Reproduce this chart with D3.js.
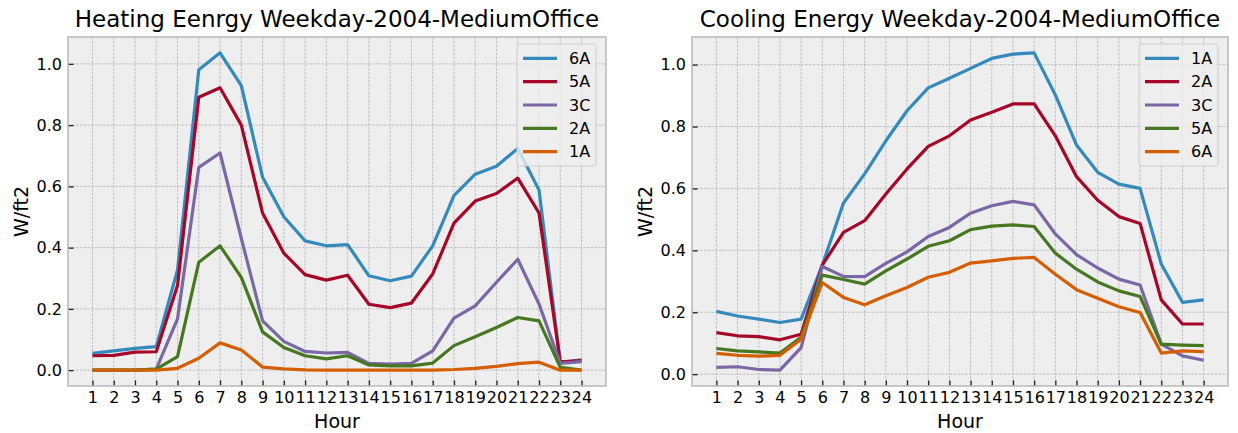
<!DOCTYPE html>
<html>
<head>
<meta charset="utf-8">
<script src="https://cdn.jsdelivr.net/npm/d3@7/dist/d3.min.js"></script>
<style>
  html, body { margin: 0; padding: 0; background: #ffffff; }
  svg { display: block; font-family: "DejaVu Sans", sans-serif; }
</style>
</head>
<body>
<svg id="chart" width="1238" height="433"></svg>
<script>
// ---------------- data ----------------
const hours = d3.range(1, 25);
const hourLabels = hours.map(String);
const yTickValues = [0.0, 0.2, 0.4, 0.6, 0.8, 1.0];

const heatTitle = "Heating Eenrgy Weekday-2004-MediumOffice";
const heatZones = ["6A", "5A", "3C", "2A", "1A"];
const heat6A = [0.055, 0.063, 0.071, 0.077, 0.327, 0.981, 1.036, 0.929, 0.630, 0.501, 0.422, 0.406, 0.410, 0.308, 0.292, 0.307, 0.406, 0.570, 0.640, 0.666, 0.724, 0.588, 0.025, 0.034];
const heat5A = [0.047, 0.048, 0.059, 0.060, 0.276, 0.891, 0.922, 0.800, 0.513, 0.382, 0.312, 0.294, 0.310, 0.215, 0.204, 0.219, 0.314, 0.480, 0.552, 0.577, 0.627, 0.513, 0.027, 0.031];
const heat3C = [0.000, 0.000, 0.000, 0.003, 0.167, 0.662, 0.709, 0.430, 0.161, 0.094, 0.061, 0.056, 0.058, 0.022, 0.020, 0.022, 0.063, 0.170, 0.210, 0.287, 0.362, 0.216, 0.022, 0.028];
const heat2A = [0.000, 0.000, 0.000, 0.003, 0.044, 0.352, 0.406, 0.303, 0.125, 0.074, 0.047, 0.037, 0.047, 0.017, 0.014, 0.014, 0.023, 0.080, 0.109, 0.139, 0.172, 0.161, 0.009, 0.000];
const heat1A = [0.000, 0.000, 0.000, 0.000, 0.006, 0.039, 0.089, 0.066, 0.010, 0.004, 0.001, 0.000, 0.000, 0.000, 0.000, 0.000, 0.000, 0.002, 0.006, 0.012, 0.021, 0.026, 0.000, 0.000];

const coolTitle = "Cooling Energy Weekday-2004-MediumOffice";
const coolZones = ["1A", "2A", "3C", "5A", "6A"];
const cool1A = [0.203, 0.188, 0.178, 0.167, 0.178, 0.352, 0.553, 0.647, 0.754, 0.851, 0.925, 0.956, 0.988, 1.020, 1.034, 1.038, 0.902, 0.740, 0.652, 0.614, 0.600, 0.356, 0.232, 0.240];
const cool2A = [0.134, 0.124, 0.121, 0.111, 0.129, 0.352, 0.458, 0.496, 0.582, 0.663, 0.736, 0.770, 0.821, 0.846, 0.873, 0.873, 0.770, 0.638, 0.562, 0.509, 0.487, 0.240, 0.162, 0.162];
const cool3C = [0.022, 0.024, 0.015, 0.013, 0.086, 0.348, 0.316, 0.315, 0.358, 0.395, 0.445, 0.474, 0.520, 0.544, 0.558, 0.547, 0.453, 0.386, 0.343, 0.307, 0.288, 0.097, 0.059, 0.045];
const cool5A = [0.083, 0.075, 0.072, 0.068, 0.119, 0.320, 0.306, 0.291, 0.334, 0.372, 0.413, 0.431, 0.467, 0.478, 0.482, 0.477, 0.391, 0.339, 0.298, 0.269, 0.251, 0.097, 0.094, 0.092];
const cool6A = [0.067, 0.061, 0.058, 0.061, 0.113, 0.296, 0.248, 0.224, 0.253, 0.280, 0.313, 0.329, 0.359, 0.366, 0.374, 0.377, 0.323, 0.273, 0.245, 0.218, 0.199, 0.068, 0.075, 0.073];

const seriesColors = ["#348ABD", "#A60628", "#7A68A6", "#467821", "#D55E00"];
const xLabel = "Hour";
const yLabel = "W/ft2";

// ---------------- drawing ----------------
const svg = d3.select("#chart");

function drawPanel(opts) {
  const { left, right, top, bottom, title, zones, series } = opts;
  const g = svg.append("g");

  // domains with matplotlib-like 5% margins
  const xMin = d3.min(hours), xMax = d3.max(hours);
  const xPad = (xMax - xMin) * 0.05;
  const allVals = series.flat();
  const yMin = d3.min(allVals), yMax = d3.max(allVals);
  const yPad = (yMax - yMin) * 0.05;

  const x = d3.scaleLinear().domain([xMin - xPad, xMax + xPad]).range([left, right]);
  const y = d3.scaleLinear().domain([yMin - yPad, yMax + yPad]).range([bottom, top]);

  // background
  g.append("rect").attr("x", left).attr("y", top)
    .attr("width", right - left).attr("height", bottom - top)
    .attr("fill", "#eeeeee");

  // grid
  const grid = g.append("g").attr("stroke", "#b2b2b2").attr("stroke-width", 0.8)
    .attr("stroke-dasharray", "2.6,1.3");
  grid.selectAll("line.gx").data(hours).enter().append("line")
    .attr("x1", d => x(d)).attr("x2", d => x(d)).attr("y1", top).attr("y2", bottom);
  grid.selectAll("line.gy").data(yTickValues).enter().append("line")
    .attr("y1", d => y(d)).attr("y2", d => y(d)).attr("x1", left).attr("x2", right);

  // axes (ticks inward)
  const xAxis = d3.axisBottom(x).tickValues(hours).tickFormat((d, i) => hourLabels[i])
    .tickSizeInner(-5.6).tickSizeOuter(0).tickPadding(5.5);
  const yAxis = d3.axisLeft(y).tickValues(yTickValues).tickFormat(d3.format(".1f"))
    .tickSizeInner(-5.6).tickSizeOuter(0).tickPadding(6);

  const gx = g.append("g").attr("transform", `translate(0,${bottom})`).call(xAxis);
  const gy = g.append("g").attr("transform", `translate(${left},0)`).call(yAxis);
  [gx, gy].forEach(a => {
    a.select(".domain").remove();
    a.selectAll(".tick line").attr("stroke", "#222").attr("stroke-width", 1.3);
    a.selectAll(".tick text").attr("fill", "#000").style("font-size", "16px")
      .style("font-family", "DejaVu Sans, sans-serif");
  });

  // lines
  const line = d3.line().x((d, i) => x(hours[i])).y(d => y(d));
  series.forEach((s, i) => {
    g.append("path").datum(s).attr("d", line)
      .attr("fill", "none").attr("stroke", seriesColors[i])
      .attr("stroke-width", 3.2).attr("stroke-linejoin", "round").attr("stroke-linecap", "butt");
  });

  // frame
  g.append("rect").attr("x", left).attr("y", top)
    .attr("width", right - left).attr("height", bottom - top)
    .attr("fill", "none").attr("stroke", "#bcbcbc").attr("stroke-width", 1.6);

  // title
  g.append("text").attr("x", (left + right) / 2).attr("y", top - 10)
    .attr("text-anchor", "middle").style("font-size", "23px").attr("fill", "#000")
    .text(title);

  // axis labels
  g.append("text").attr("x", (left + right) / 2).attr("y", 428)
    .attr("text-anchor", "middle").style("font-size", "19px").attr("fill", "#000")
    .text(xLabel);
  g.append("text")
    .attr("transform", `translate(${left - 40},${(top + bottom) / 2}) rotate(-90)`)
    .attr("text-anchor", "middle").style("font-size", "19px").attr("fill", "#000")
    .text(yLabel);

  // legend
  const lgRight = right - 10, lgLeft = right - 89, lgTop = top + 7, lgBottom = top + 129;
  const lg = g.append("g");
  lg.append("rect").attr("x", lgLeft).attr("y", lgTop)
    .attr("width", lgRight - lgLeft).attr("height", lgBottom - lgTop)
    .attr("rx", 3).attr("ry", 3)
    .attr("fill", "#eeeeee").attr("fill-opacity", 0.8)
    .attr("stroke", "#cccccc").attr("stroke-width", 1);
  zones.forEach((z, i) => {
    const cy = lgTop + 14.3 + i * 23.35;
    lg.append("line").attr("x1", lgLeft + 6).attr("x2", lgLeft + 40)
      .attr("y1", cy).attr("y2", cy)
      .attr("stroke", seriesColors[i]).attr("stroke-width", 3.2);
    lg.append("text").attr("x", lgLeft + 52).attr("y", cy)
      .attr("dy", "0.36em").style("font-size", "16px").attr("fill", "#000")
      .text(z);
  });
}

drawPanel({ left: 68, right: 606, top: 37, bottom: 386, title: heatTitle,
  zones: heatZones, series: [heat6A, heat5A, heat3C, heat2A, heat1A] });
drawPanel({ left: 692, right: 1228, top: 37, bottom: 386, title: coolTitle,
  zones: coolZones, series: [cool1A, cool2A, cool3C, cool5A, cool6A] });
</script>
</body>
</html>
